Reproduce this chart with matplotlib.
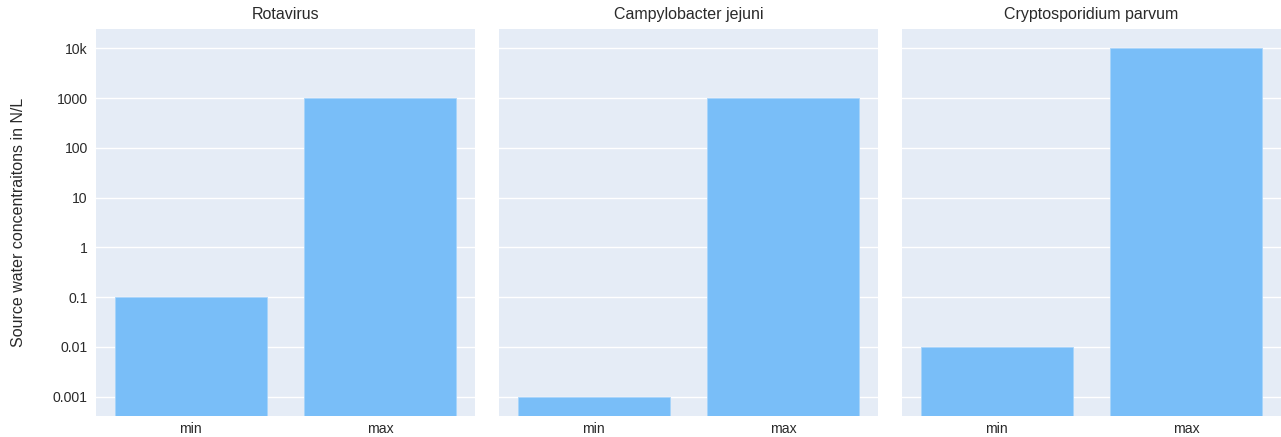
import matplotlib.pyplot as plt
from matplotlib.ticker import FixedLocator, NullLocator

# data
pathogens = ['Rotavirus', 'Campylobacter jejuni', 'Cryptosporidium parvum']
categories = ['min', 'max']
min_vals = [0.1, 0.001, 0.01]
max_vals = [1000, 1000, 10000]

ticks = [0.001, 0.01, 0.1, 1, 10, 100, 1000, 10000]
tick_labels = ['0.001', '0.01', '0.1', '1', '10', '100', '1000', '10k']

plt.rcParams['font.family'] = ['Liberation Sans', 'DejaVu Sans']

W, H = 1281, 437
fig = plt.figure(figsize=(W / 100, H / 100), dpi=100)

ylo, yhi = 10 ** -3.39, 10 ** 4.39
lefts = [96, 499, 902]
pw = 379
top, bottom = 29, 416

for i, name in enumerate(pathogens):
    ax = fig.add_axes([lefts[i] / W, 1 - bottom / H, pw / W, (bottom - top) / H])
    ax.set_facecolor('#E5ECF6')
    vals = [min_vals[i], max_vals[i]]
    ax.bar(categories, [v - ylo for v in vals], bottom=ylo, width=0.8,
           color='#79BEF8', edgecolor='#A8D4FA', linewidth=0.6, zorder=3)
    ax.set_yscale('log')
    ax.set_ylim(ylo, yhi)
    ax.set_xlim(-0.5, 1.5)
    ax.yaxis.set_major_locator(FixedLocator(ticks))
    ax.yaxis.set_minor_locator(NullLocator())
    ax.grid(axis='y', color='white', linewidth=1, zorder=1)
    ax.set_axisbelow(True)
    for s in ax.spines.values():
        s.set_visible(False)
    ax.tick_params(length=0, labelsize=10.1, colors='#2a2a2a', pad=6)
    ax.tick_params(axis='x', pad=4)
    if i == 0:
        ax.set_yticklabels(tick_labels)
        ax.set_ylabel('Source water concentraitons in N/L', fontsize=11.5,
                      color='#2a2a2a', labelpad=19)
    else:
        ax.set_yticklabels([])
    ax.set_title(name, fontsize=11.5, color='#2a2a2a', pad=7)

fig.savefig('out.png', dpi=100)
